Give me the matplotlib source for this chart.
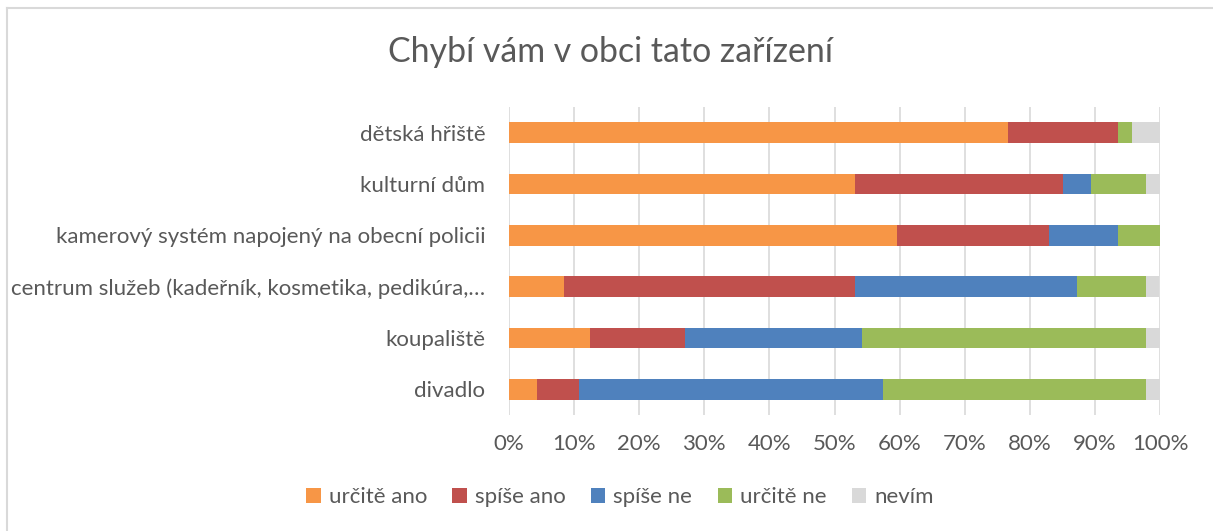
import numpy as np
import matplotlib
matplotlib.use("Agg")
import matplotlib.pyplot as plt

# ---------------------------------------------------------
# Data (share of answers, %)
# ---------------------------------------------------------
categories = [
    "dětská hřiště",
    "kulturní dům",
    "kamerový systém napojený na obecní policii",
    "centrum služeb (kadeřník, kosmetika, pedikúra,…",
    "koupaliště",
    "divadlo",
]
series_names = ["určitě ano", "spíše ano", "spíše ne", "určitě ne", "nevím"]

urcite_ano = [76.6, 53.2, 59.6, 8.5, 12.5, 4.3]
spise_ano = [17.0, 31.9, 23.4, 44.7, 14.6, 6.4]
spise_ne = [0.0, 4.3, 10.6, 34.0, 27.1, 46.8]
urcite_ne = [2.1, 8.5, 6.4, 10.6, 43.7, 40.4]
nevim = [4.3, 2.1, 0.0, 2.1, 2.1, 2.1]

x_ticks = list(range(0, 101, 10))
x_tick_labels = [f"{t}%" for t in x_ticks]

colors = ["#F79646", "#C0504D", "#4F81BD", "#9BBB59", "#D9D9D9"]
text_color = "#595959"
grid_color = "#D9D9D9"

plt.rcParams["font.family"] = ["Lato", "DejaVu Sans"]

# ---------------------------------------------------------
# Plot
# ---------------------------------------------------------
fig = plt.figure(figsize=(12.13, 5.31), dpi=100)
ax = fig.add_axes([509 / 1213, 1 - 415 / 531, (1160 - 509) / 1213, (415 - 107) / 531])

# outer chart border (only top and left visible in the crop)
fig.add_artist(plt.Line2D([7 / 1213, 7 / 1213], [0, 1 - 8 / 531], transform=fig.transFigure,
                          color=grid_color, linewidth=1.5))
fig.add_artist(plt.Line2D([7 / 1213, 1], [1 - 8 / 531, 1 - 8 / 531], transform=fig.transFigure,
                          color=grid_color, linewidth=1.5))

y = np.arange(len(categories))
all_series = [urcite_ano, spise_ano, spise_ne, urcite_ne, nevim]
left = np.zeros(len(categories))
for name, vals, col in zip(series_names, all_series, colors):
    vals = np.array(vals)
    ax.barh(y, vals, left=left, height=0.4, color=col, label=name, linewidth=0, zorder=3)
    left += vals

ax.set_xlim(0, 100)
ax.set_ylim(len(categories) - 0.5, -0.5)
ax.set_xticks(x_ticks)
ax.set_xticklabels(x_tick_labels)
ax.set_yticks(y)
ax.set_yticklabels(categories)

ax.grid(axis="x", color=grid_color, linewidth=1.2, zorder=0)
for s in ax.spines.values():
    s.set_visible(False)
ax.tick_params(axis="both", length=0, colors=text_color, labelsize=16)
ax.tick_params(axis="x", pad=14)
ax.tick_params(axis="y", pad=17)

fig.text(610 / 1213, 1 - 52 / 531, "Chybí vám v obci tato zařízení", ha="center", va="center",
         fontsize=24.4, color=text_color)

leg = fig.legend(loc="center", bbox_to_anchor=(620 / 1213, 1 - 497 / 531), ncol=5, frameon=False,
                 fontsize=16, handlelength=0.65, handleheight=0.65, handletextpad=0.35,
                 columnspacing=1.15)
for t in leg.get_texts():
    t.set_color(text_color)

fig.savefig("out.png", dpi=100)
